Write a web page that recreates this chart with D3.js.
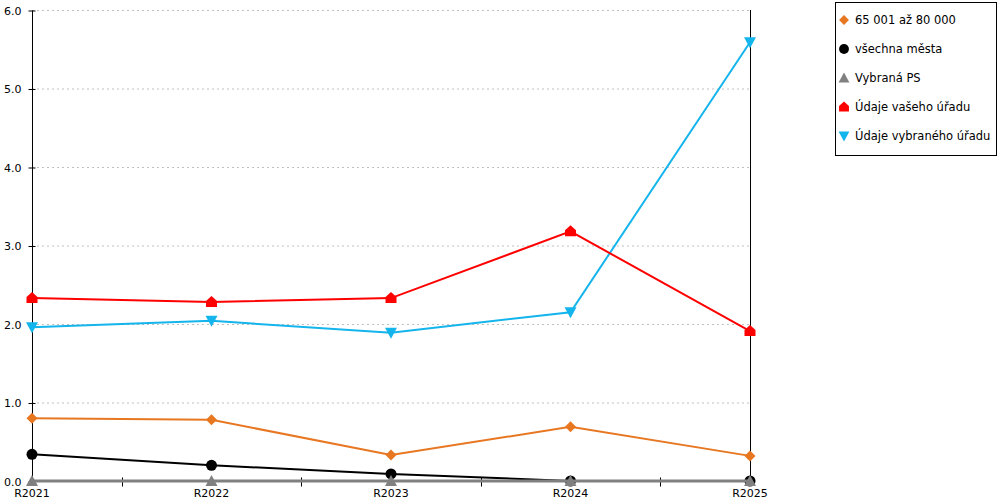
<!DOCTYPE html>
<html>
<head>
  <meta charset="utf-8">
  <script src="https://d3js.org/d3.v7.min.js"></script>
  <style>
    body { margin: 0; background: #fff; }
    text { font-family: "DejaVu Sans", Verdana, sans-serif; }
  </style>
</head>
<body>
<script>
// Data
var years = ['R2021', 'R2022', 'R2023', 'R2024', 'R2025'];
var yTicks = [0, 1, 2, 3, 4, 5, 6];

var seriesNames = ['65 001 až 80 000', 'všechna města', 'Vybraná PS', 'Údaje vašeho úřadu', 'Údaje vybraného úřadu'];
var seriesColors = ['#e87722', '#000000', '#808080', '#ff0000', '#14b4ec'];
var seriesShapes = ['diamond', 'circle', 'triangle', 'house', 'down'];

var v65001 = [0.80, 0.78, 0.33, 0.69, 0.32];
var vAll = [0.34, 0.20, 0.09, 0.00, 0.00];
var vPS = [0, 0, 0, 0, 0];
var vYour = [2.33, 2.28, 2.33, 3.18, 1.91];
var vSelected = [1.96, 2.04, 1.89, 2.15, 5.59];
var seriesValues = [v65001, vAll, vPS, vYour, vSelected];

var width = 1000, height = 500;
var plotLeft = 32, plotRight = 750, plotTop = 10, plotBottom = 481;

var svg = d3.select('body').append('svg')
  .attr('width', width)
  .attr('height', height);

var x = d3.scalePoint().domain(years).range([plotLeft, plotRight]);
var y = d3.scaleLinear().domain([0, 6]).range([plotBottom, plotTop]);

// marker shapes
function markerPath(shape) {
  switch (shape) {
    case 'diamond': return 'M0,-5.5L5.5,0L0,5.5L-5.5,0Z';
    case 'circle': return d3.symbol().type(d3.symbolCircle).size(95)();
    case 'triangle': return 'M0,-6L6,5L-6,5Z';
    case 'house': return 'M0,-6L5.5,-1L5.5,5L-5.5,5L-5.5,-1Z';
    case 'down': return 'M-6,-5L6,-5L0,6Z';
  }
}

// gridlines
svg.append('g').selectAll('line')
  .data(yTicks.filter(function (d) { return d > 0; }))
  .enter().append('line')
  .attr('x1', plotLeft).attr('x2', plotRight)
  .attr('y1', function (d) { return y(d) + 0.5; })
  .attr('y2', function (d) { return y(d) + 0.5; })
  .attr('stroke', '#c0c0c0')
  .attr('stroke-dasharray', '2,3');

// y axis
var yAxis = d3.axisLeft(y).tickValues(yTicks).tickFormat(d3.format('.1f')).tickSize(4).tickPadding(7);
var gy = svg.append('g').attr('transform', 'translate(' + (plotLeft + 0.5) + ',0.5)').call(yAxis);
gy.selectAll('.tick line').attr('x2', 3).attr('x1', -4).attr('stroke', '#000');
gy.select('.domain').attr('d', 'M0,' + plotTop + 'V' + plotBottom).attr('stroke', '#000');
gy.selectAll('text').attr('font-size', 11).attr('fill', '#000').attr('font-family', '"DejaVu Sans", Verdana, sans-serif');

// right border line
svg.append('line')
  .attr('x1', plotRight + 0.5).attr('x2', plotRight + 0.5)
  .attr('y1', plotTop).attr('y2', plotBottom)
  .attr('stroke', '#000');

// x axis
var gx = svg.append('g').attr('transform', 'translate(0,' + (plotBottom + 0.5) + ')');
gx.append('line').attr('x1', plotLeft).attr('x2', plotRight).attr('stroke', '#000');
var mids = d3.pairs(years).map(function (p) { return (x(p[0]) + x(p[1])) / 2; });
gx.selectAll('line.minor').data(mids).enter().append('line')
  .attr('class', 'minor')
  .attr('x1', function (d) { return Math.round(d) + 0.5; })
  .attr('x2', function (d) { return Math.round(d) + 0.5; })
  .attr('y1', -4).attr('y2', 5)
  .attr('stroke', '#000');
gx.selectAll('text').data(years).enter().append('text')
  .attr('x', function (d) { return x(d); })
  .attr('y', 15)
  .attr('text-anchor', 'middle')
  .attr('font-size', 11)
  .text(function (d) { return d; });

// series lines and markers
var line = d3.line()
  .x(function (d, i) { return x(years[i]); })
  .y(function (d) { return y(d); });

var drawOrder = [1, 2, 0, 4, 3];
drawOrder.forEach(function (s) {
  var g = svg.append('g');
  g.append('path')
    .datum(seriesValues[s])
    .attr('d', line)
    .attr('fill', 'none')
    .attr('stroke', seriesColors[s])
    .attr('stroke-width', s === 2 ? 3 : 2);
  g.selectAll('path.m').data(seriesValues[s]).enter().append('path')
    .attr('class', 'm')
    .attr('transform', function (d, i) { return 'translate(' + x(years[i]) + ',' + y(d) + ')'; })
    .attr('d', markerPath(seriesShapes[s]))
    .attr('fill', seriesColors[s]);
});

// legend
var legend = svg.append('g');
legend.append('rect')
  .attr('x', 835.5).attr('y', 2.5)
  .attr('width', 161).attr('height', 153)
  .attr('fill', '#fff')
  .attr('stroke', '#000');
var items = legend.selectAll('g.item').data(seriesNames).enter().append('g')
  .attr('transform', function (d, i) { return 'translate(0,' + (19 + i * 29) + ')'; });
items.append('path')
  .attr('transform', 'translate(844,1) scale(0.9)')
  .attr('d', function (d, i) { return markerPath(seriesShapes[i]); })
  .attr('fill', function (d, i) { return seriesColors[i]; });
items.append('text')
  .attr('x', 855)
  .attr('y', 5)
  .attr('font-size', 11.5)
  .text(function (d) { return d; });
</script>
</body>
</html>
